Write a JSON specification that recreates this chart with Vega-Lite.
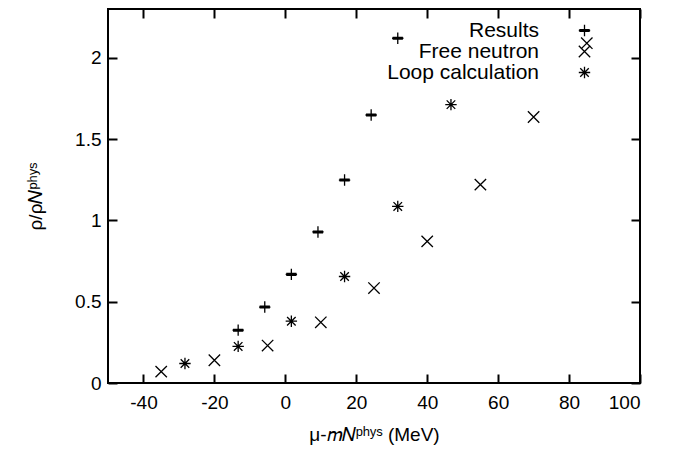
{
  "$schema": "https://vega.github.io/schema/vega-lite/v6.json",
  "width": 532,
  "height": 374,
  "autosize": {"type": "none"},
  "padding": {"left": 108, "top": 9, "right": 45, "bottom": 70},
  "background": "white",
  "config": {
    "view": {"stroke": "black", "strokeWidth": 2},
    "font": "Liberation Sans",
    "axis": {
      "domain": false,
      "grid": false,
      "labelColor": "black",
      "labelFont": "Liberation Sans",
      "labelFontSize": 19,
      "titleFont": "Liberation Sans",
      "titleFontSize": 19,
      "titleFontWeight": "normal",
      "titleColor": "black"
    }
  },
  "data": {
    "values": [
      {"series": "Results", "x": -13.3, "y": 0.325},
      {"series": "Results", "x": -5.8, "y": 0.467},
      {"series": "Results", "x": 1.7, "y": 0.668},
      {"series": "Results", "x": 9.2, "y": 0.929},
      {"series": "Results", "x": 16.7, "y": 1.248},
      {"series": "Results", "x": 24.2, "y": 1.648},
      {"series": "Results", "x": 31.7, "y": 2.12},
      {"series": "Free neutron", "x": -35, "y": 0.07},
      {"series": "Free neutron", "x": -20, "y": 0.14},
      {"series": "Free neutron", "x": -5, "y": 0.23},
      {"series": "Free neutron", "x": 10, "y": 0.373},
      {"series": "Free neutron", "x": 25, "y": 0.584},
      {"series": "Free neutron", "x": 40, "y": 0.871},
      {"series": "Free neutron", "x": 55, "y": 1.22},
      {"series": "Free neutron", "x": 70, "y": 1.636},
      {"series": "Free neutron", "x": 85, "y": 2.09},
      {"series": "Loop calculation", "x": -28.3, "y": 0.12},
      {"series": "Loop calculation", "x": -13.3, "y": 0.225},
      {"series": "Loop calculation", "x": 1.7, "y": 0.38},
      {"series": "Loop calculation", "x": 16.7, "y": 0.655},
      {"series": "Loop calculation", "x": 31.7, "y": 1.086},
      {"series": "Loop calculation", "x": 46.7, "y": 1.712}
    ]
  },
  "resolve": {"axis": {"x": "independent", "y": "independent"}},
  "layer": [
    {
      "mark": {"type": "point", "filled": false, "stroke": "black", "strokeWidth": 1.3, "size": 130, "opacity": 1},
      "encoding": {
        "x": {
          "field": "x", "type": "quantitative",
          "scale": {"domain": [-50, 100], "nice": false, "zero": false},
          "axis": {"orient": "bottom", "values": [-40, -20, 0, 20, 40, 60, 80, 100], "labelExpr": "datum.value + ''", "ticks": true, "tickSize": -9, "tickColor": "black", "tickWidth": 2, "labelPadding": 19, "title": "μ-𝑚𝑁ᵖʰʸˢ (MeV)", "titlePadding": 13}
        },
        "y": {
          "field": "y", "type": "quantitative",
          "scale": {"domain": [0, 2.3], "nice": false},
          "axis": {"orient": "left", "values": [0, 0.5, 1, 1.5, 2], "labelExpr": "datum.value + ''", "ticks": true, "tickSize": -9, "tickColor": "black", "tickWidth": 2, "labelPadding": 16, "title": "ρ/ρ𝑁ᵖʰʸˢ", "titleX": -63}
        },
        "shape": {
          "field": "series", "type": "nominal",
          "scale": {
            "domain": ["Results", "Free neutron", "Loop calculation"],
            "range": ["M-1,0H1M0,-1V1M-0.9,-0.15H0.9M-0.9,0.15H0.9", "M-1,-1L1,1M-1,1L1,-1", "M-1,0H1M0,-1V1M-0.75,-0.75L0.75,0.75M-0.75,0.75L0.75,-0.75"]
          },
          "legend": {
            "orient": "none",
            "legendX": 466,
            "legendY": 11,
            "title": null,
            "padding": 0,
            "labelAlign": "right",
            "labelOffset": -56,
            "labelFontSize": 21,
            "labelFont": "Liberation Sans",
            "labelColor": "black",
            "rowPadding": -1.3,
            "symbolSize": 130,
            "symbolStrokeColor": "black",
            "symbolStrokeWidth": 1.3,
            "symbolFillColor": "transparent"
          }
        },
        "color": {"value": "black"}
      }
    },
    {
      "mark": {"type": "point", "opacity": 0},
      "encoding": {
        "x": {
          "field": "x", "type": "quantitative",
          "axis": {"orient": "top", "values": [-40, -20, 0, 20, 40, 60, 80, 100], "labels": false, "title": null, "ticks": true, "tickSize": -9, "tickColor": "black", "tickWidth": 2}
        },
        "y": {
          "field": "y", "type": "quantitative",
          "axis": {"orient": "right", "values": [0, 0.5, 1, 1.5, 2], "labels": false, "title": null, "ticks": true, "tickSize": -9, "tickColor": "black", "tickWidth": 2}
        }
      }
    }
  ]
}
